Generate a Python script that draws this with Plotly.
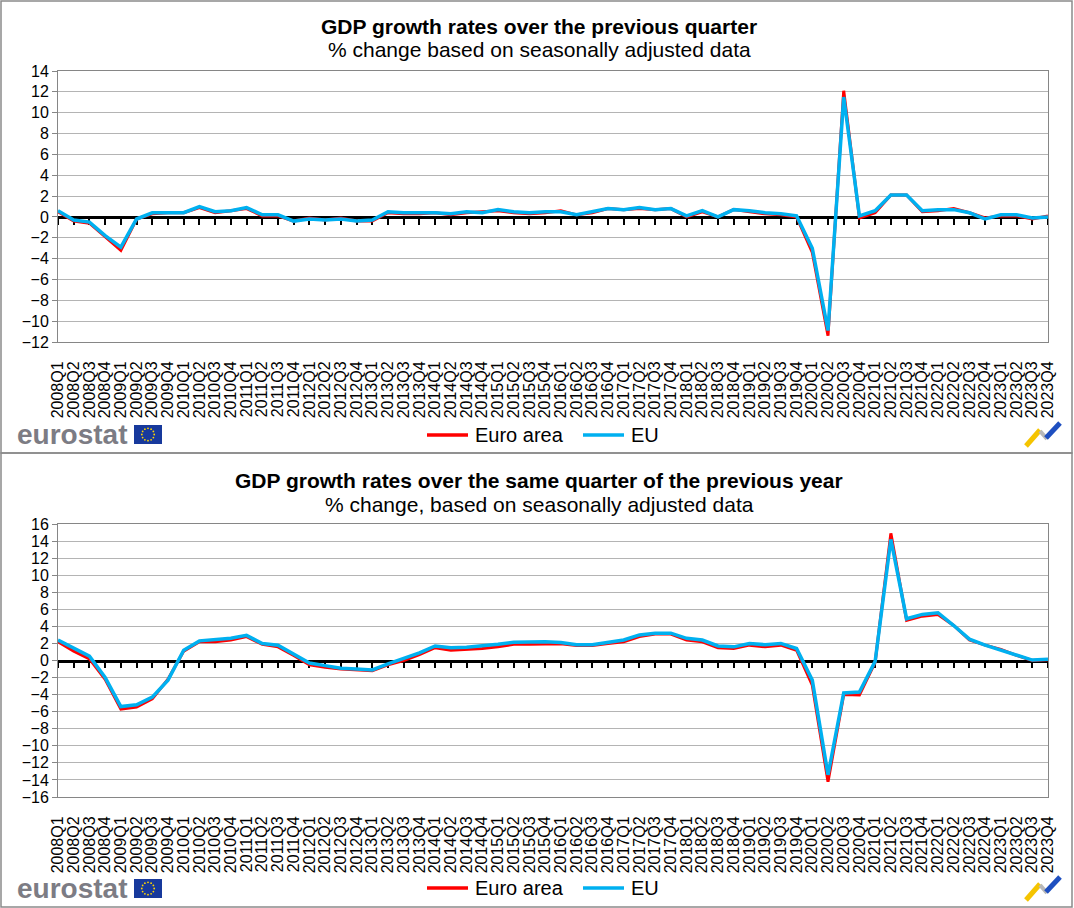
import math
import plotly.graph_objects as go

W, H = 1074, 908

quarters = [f"{y}Q{q}" for y in range(2008, 2024) for q in range(1, 5)]

# GDP growth over previous quarter (%)
qoq_ea = [0.5, -0.4, -0.6, -1.9, -3.2, -0.2, 0.3, 0.4, 0.4, 0.9, 0.4, 0.6,
          0.8, 0.1, 0.1, -0.4, -0.1, -0.3, -0.1, -0.4, -0.4, 0.4, 0.3, 0.3,
          0.4, 0.2, 0.4, 0.5, 0.6, 0.4, 0.3, 0.4, 0.6, 0.2, 0.4, 0.8,
          0.7, 0.8, 0.7, 0.8, 0.0, 0.5, 0.0, 0.7, 0.5, 0.3, 0.2, 0.0,
          -3.4, -11.4, 12.1, -0.1, 0.4, 2.1, 2.1, 0.5, 0.6, 0.8, 0.4, -0.1,
          0.1, 0.1, -0.2, 0.1]
qoq_eu = [0.6, -0.3, -0.5, -1.8, -2.9, -0.2, 0.4, 0.4, 0.4, 1.0, 0.5, 0.6,
          0.9, 0.2, 0.2, -0.4, -0.2, -0.3, -0.2, -0.4, -0.3, 0.5, 0.4, 0.4,
          0.4, 0.3, 0.5, 0.4, 0.7, 0.5, 0.4, 0.5, 0.5, 0.2, 0.5, 0.8,
          0.7, 0.9, 0.7, 0.8, 0.1, 0.6, 0.0, 0.7, 0.6, 0.4, 0.3, 0.1,
          -3.0, -10.9, 11.5, 0.1, 0.6, 2.1, 2.1, 0.6, 0.7, 0.7, 0.4, -0.2,
          0.2, 0.2, -0.1, 0.0]

# GDP growth over same quarter of previous year (%)
yoy_ea = [2.2, 1.1, 0.2, -2.2, -5.7, -5.45, -4.5, -2.2, 1.1, 2.2, 2.2, 2.4,
          2.8, 1.9, 1.6, 0.6, -0.5, -0.8, -1.0, -1.1, -1.2, -0.5, 0.0, 0.7,
          1.5, 1.2, 1.3, 1.4, 1.6, 1.9, 1.9, 1.95, 1.95, 1.75, 1.75, 2.0,
          2.2, 2.8, 3.1, 3.1, 2.4, 2.2, 1.5, 1.4, 1.8, 1.6, 1.8, 1.2,
          -2.9, -14.2, -4.0, -4.05, -0.2, 14.9, 4.7, 5.2, 5.4, 4.1, 2.4, 1.8,
          1.3, 0.6, 0.0, 0.1]
yoy_eu = [2.4, 1.45, 0.5, -2.0, -5.4, -5.2, -4.3, -2.3, 1.2, 2.3, 2.4, 2.6,
          2.95, 2.0, 1.8, 0.8, -0.3, -0.6, -0.9, -1.0, -1.1, -0.4, 0.2, 0.9,
          1.7, 1.5, 1.55, 1.7, 1.9, 2.15, 2.2, 2.2, 2.1, 1.85, 1.85, 2.15,
          2.4, 3.0, 3.2, 3.2, 2.6, 2.4, 1.7, 1.6, 2.0, 1.85, 2.0, 1.4,
          -2.3, -13.4, -3.8, -3.7, -0.1, 14.2, 4.9, 5.4, 5.6, 4.1, 2.5, 1.8,
          1.2, 0.65, 0.05, 0.15]

series_names = ["Euro area", "EU"]
top_title = "GDP growth rates over the previous quarter"
top_sub = "% change based on seasonally adjusted data"
bot_title = "GDP growth rates over the same quarter of the previous year"
bot_sub = "% change, based on seasonally adjusted data"
top_range = [-12, 14]
bot_range = [-16, 16]

FONT = "Liberation Sans, Arial, sans-serif"
RED = "#ff0000"
BLUE = "#00b0f0"
GRAY = "#868686"
GRID = "#b4b4b4"


def px(x):
    return x / W


def py(y):
    return 1 - y / H


PL, PR = 58, 1048
TOP_T, TOP_B = 71, 342
BOT_T, BOT_B = 524, 797

fig = go.Figure()
# red on the base x axis, blue on the overlaying zero-line axis (drawn on top)
for xa, xz, ya, ea, eu in [("x", "x3", "y", qoq_ea, qoq_eu),
                           ("x2", "x4", "y2", yoy_ea, yoy_eu)]:
    fig.add_trace(go.Scatter(x=quarters, y=ea, xaxis=xa, yaxis=ya, mode="lines",
                             line=dict(color=RED, width=3), name=series_names[0],
                             showlegend=False))
    fig.add_trace(go.Scatter(x=quarters, y=eu, xaxis=xz, yaxis=ya, mode="lines",
                             line=dict(color=BLUE, width=3.5), name=series_names[1],
                             showlegend=False))

n = len(quarters)


def xcat(anchor):
    return dict(domain=[px(PL), px(PR)], anchor=anchor, type="category",
                range=[0, n - 1], tickmode="linear", tick0=0, dtick=1,
                showgrid=False, showline=True, linecolor=GRAY,
                linewidth=1, mirror=True, ticks="", tickangle=-90,
                tickfont=dict(size=16, color="black", family=FONT),
                ticklabelstandoff=12, zeroline=False, fixedrange=True)


def yax(anchor, top, bottom, rng):
    return dict(domain=[py(bottom), py(top)], anchor=anchor, range=rng,
                tick0=0, dtick=2, showgrid=True, gridcolor=GRID, gridwidth=1,
                zeroline=False, showline=True, linecolor=GRAY, linewidth=1,
                mirror=True, ticks="outside", ticklen=5, tickcolor=GRAY,
                tickfont=dict(size=16, color="black", family=FONT), fixedrange=True)


def zero_axis(over, top, bottom, rng):
    zy = bottom - (bottom - top) * (-rng[0]) / (rng[1] - rng[0])
    return dict(overlaying=over, anchor="free", position=py(zy),
                domain=[px(PL), px(PR)], type="category", range=[0, n - 1],
                tickmode="linear", tick0=0, dtick=1, ticks="outside",
                ticklen=6, tickwidth=2, tickcolor="black", showline=True,
                linecolor="black", linewidth=2.5, showticklabels=False,
                showgrid=False, zeroline=False, layer="below traces", fixedrange=True)


shapes = []
annotations = []

# panel frames
for (t, b) in [(1, 453), (453, 907)]:
    shapes.append(dict(type="rect", xref="paper", yref="paper", x0=px(1), x1=px(1072),
                       y0=py(b), y1=py(t), line=dict(color="#8a8a8a", width=1.5)))

for off, (title, sub) in zip([0, 454], [(top_title, top_sub), (bot_title, bot_sub)]):
    annotations.append(dict(text=f"<b>{title}</b>", x=px(539), y=py(26 + off), xref="paper",
                            yref="paper", showarrow=False, xanchor="center", yanchor="middle",
                            font=dict(size=21, color="black", family=FONT)))
    annotations.append(dict(text=sub, x=px(539), y=py(50 + off), xref="paper",
                            yref="paper", showarrow=False, xanchor="center", yanchor="middle",
                            font=dict(size=21, color="black", family=FONT)))
    # legend
    ly = 435 + off - (1 if off else 0)
    for (x0, x1, tx, col, name) in [(427, 468, 473, RED, series_names[0]),
                                    (583, 624, 629, BLUE, series_names[1])]:
        shapes.append(dict(type="line", xref="paper", yref="paper", x0=px(x0), x1=px(x1),
                           y0=py(ly), y1=py(ly), line=dict(color=col, width=3.5)))
        annotations.append(dict(text=name, x=px(tx), y=py(ly), xref="paper", yref="paper",
                                showarrow=False, xanchor="left", yanchor="middle",
                                font=dict(size=20, color="black", family=FONT)))
    # eurostat logo
    annotations.append(dict(text="<b>eurostat</b>", x=px(15), y=py(434 + off), xref="paper",
                            yref="paper", showarrow=False, xanchor="left", yanchor="middle",
                            font=dict(size=28, color="#7c7c84", family=FONT)))
    fy0, fy1 = 425 + off, 444 + off
    shapes.append(dict(type="rect", xref="paper", yref="paper", x0=px(134), x1=px(162),
                       y0=py(fy1), y1=py(fy0), fillcolor="#17399c", line=dict(width=0)))
    cx, cy = 148, (fy0 + fy1) / 2
    for k in range(12):
        a = 2 * math.pi * k / 12
        sx, sy = cx + 6.2 * math.cos(a), cy + 6.2 * math.sin(a)
        shapes.append(dict(type="circle", xref="paper", yref="paper",
                           x0=px(sx - 0.9), x1=px(sx + 0.9), y0=py(sy + 0.9), y1=py(sy - 0.9),
                           fillcolor="#ffd500", line=dict(width=0)))
    # right logo
    for (x0, y0, x1, y1, col, wd) in [(1026, 446, 1040, 430, "#f5c400", 5),
                                      (1040, 431, 1047, 439, "#b8b8b8", 4),
                                      (1046, 438, 1060, 423, "#1e4fc0", 5)]:
        shapes.append(dict(type="line", xref="paper", yref="paper", x0=px(x0), x1=px(x1),
                           y0=py(y0 + off), y1=py(y1 + off), line=dict(color=col, width=wd)))

fig.update_layout(
    width=W, height=H,
    margin=dict(l=0, r=0, t=0, b=0, pad=0, autoexpand=False),
    paper_bgcolor="white", plot_bgcolor="white", showlegend=False,
    font=dict(family=FONT, color="black"),
    xaxis=xcat("y"), yaxis=yax("x", TOP_T, TOP_B, top_range),
    xaxis2=xcat("y2"), yaxis2=yax("x2", BOT_T, BOT_B, bot_range),
    xaxis3=zero_axis("x", TOP_T, TOP_B, top_range),
    xaxis4=zero_axis("x2", BOT_T, BOT_B, bot_range),
    shapes=shapes, annotations=annotations,
)

fig.write_html(
    "out.html",
    config={"displayModeBar": False},
    post_script=(
        "document.documentElement.style.margin='0';"
        "document.documentElement.style.overflow='hidden';"
        "document.body.style.margin='0';document.body.style.padding='0';"
    ),
)
